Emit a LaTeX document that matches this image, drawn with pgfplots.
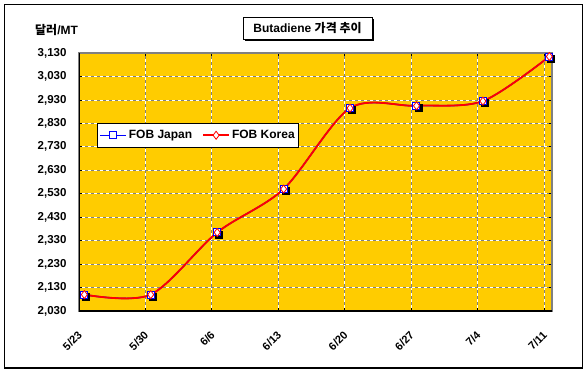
\documentclass[border=0pt]{standalone}
\usepackage{pgfplots}
\pgfplotsset{compat=1.18}
\usepackage{fontspec}
\setmainfont{Liberation Sans}
\newfontfamily\kr{Noto Sans CJK KR}
\definecolor{gold}{HTML}{FFCC00}
\definecolor{bordergray}{HTML}{808080}

\pgfplotstableread{
x y
0 2100
1 2100
2 2365
3 2550
4 2895
5 2905
6 2925
7 3115
}\japan
\pgfplotstableread{
x y
0 2100
1 2100
2 2365
3 2550
4 2895
5 2905
6 2925
7 3115
}\korea

\begin{document}
\begin{tikzpicture}[x=1pt,y=1pt]
\fill[white] (0,0) rectangle (588,373);
\draw[black, line width=1.6pt] (4.5,5) rectangle (582.5,368.5);
% title
\node[fill=black, minimum width=129pt, minimum height=22pt, inner sep=0pt] at (309.5,342.5) {};
\node[draw=black, fill=white, line width=1pt, minimum width=129pt, minimum height=22pt, inner sep=0pt, font=\bfseries\fontsize{12}{14}\selectfont] at (307.5,344.5) {Butadiene {\kr 가격 추이}};
\node[font=\bfseries\fontsize{12}{14}\selectfont, anchor=west, inner sep=0pt] at (35,343) {{\kr 달러}/MT};
\begin{axis}[
  at={(79pt,62pt)}, anchor=south west,
  scale only axis, width=473pt, height=258pt,
  xmin=-0.08, xmax=7.04,
  ymin=2030, ymax=3130,
  xtick={-0.08,0.92,1.92,2.92,3.92,4.92,5.92,6.92},
  xticklabels={5/23,5/30,6/6,6/13,6/20,6/27,7/4,7/11},
  ytick={2030,2130,...,3130},
  /pgf/number format/assume math mode=true,
  /pgf/number format/.cd, 1000 sep={,}, fixed, precision=0,
  /pgfplots/.cd,
  yticklabel style={font=\bfseries\fontsize{11.5}{13}\selectfont, xshift=-9pt},
  xticklabel style={font=\bfseries\fontsize{11}{13}\selectfont, inner sep=0pt, yshift=-19pt, xshift=-2pt, rotate=45, anchor=north east},
  axis background/.style={fill=gold},
  grid=major,
  major grid style={white, line width=0.8pt, postaction={draw=bordergray, dash pattern=on 3pt off 3pt}},
  axis line style={bordergray, line width=2.2pt},
  tick style={black, line width=0.8pt},
  major tick length=3pt,
  tick align=inside,
  legend columns=2,
  legend style={at={(0.038,0.729)}, anchor=north west, draw=black, fill=white, line width=0.8pt,
    font=\bfseries\fontsize{12}{14}\selectfont, inner xsep=2pt, inner ysep=5pt,
    /tikz/every even column/.append style={column sep=8pt}},
  legend cell align=left,
  legend image code/.code={\draw[mark repeat=2, mark phase=2] plot coordinates {(0pt,0pt) (13pt,0pt) (26pt,0pt)};},
]
\addplot[draw=none, forget plot, mark=square*, mark size=3.5pt, mark options={fill=black, draw=black, xshift=1.8pt, yshift=-1.8pt}] table[x=x,y=y] {\japan};
\addplot[blue, line width=1.5pt, smooth, tension=0.5, mark=square*, mark size=3.5pt, mark options={fill=white, draw=blue, line width=1pt, solid}] table[x=x,y=y] {\japan};
\addlegendentry{FOB Japan}
\addplot[red, line width=1.8pt, smooth, tension=0.5, mark=diamond*, mark size=4pt, mark options={fill=white, draw=red, line width=0.8pt, solid}] table[x=x,y=y] {\korea};
\addlegendentry{FOB Korea}
\draw[black, line width=1.4pt] (rel axis cs:0,1) -- (rel axis cs:0,0) -- (rel axis cs:1,0);
\end{axis}
\end{tikzpicture}
\end{document}
